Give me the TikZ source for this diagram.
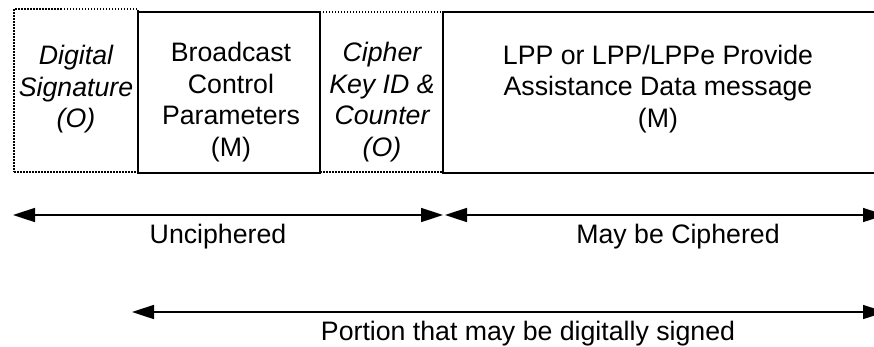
\documentclass[tikz,border=0pt]{standalone}
\usepackage{fontspec}
\setmainfont{Liberation Sans}
\usetikzlibrary{arrows.meta}
\tikzset{
  solidbox/.style={draw, line width=1.5pt, inner sep=0pt, fill=none},
  dotbox/.style={draw, line width=1.2pt, dash pattern=on 1.5pt off 1.5pt, inner sep=0pt},
  lbl/.style={align=center, inner sep=0pt, font=\fontsize{26.7}{31.5}\selectfont},
  ilbl/.style={lbl, font=\fontsize{26.7}{31.5}\selectfont\itshape},
  span/.style={line width=1.6pt, {Triangle[length=22pt,width=14pt]}-{Triangle[length=22pt,width=14pt]}}
}
\begin{document}
\begin{tikzpicture}[x=1pt,y=-1pt]
\useasboundingbox (0,0) rectangle (874,346);
\clip (0,0) rectangle (874,346);
% boxes
\node[dotbox, minimum width=124pt, minimum height=163pt] (ds) at (76,90.5) {};
\node[dotbox, minimum width=123pt, minimum height=160pt] (ck) at (381.5,92) {};
\node[solidbox, minimum width=182pt, minimum height=161pt] (bc) at (229,92.5) {};
\node[solidbox, minimum width=460pt, minimum height=161pt] (lpp) at (673,92.5) {};
% box texts
\node[ilbl] (dst) at (76,89.5) {Digital\\Signature\\(O)};
\node[lbl] (bct) at (231,102) {Broadcast\\Control\\Parameters\\(M)};
\node[ilbl] (ckt) at (382,102) {Cipher\\Key ID \&\\Counter\\(O)};
\node[lbl] (lppt) at (658,89) {LPP or LPP/LPPe Provide\\Assistance Data message\\(M)};
% arrows
\coordinate (u1) at (13,215);
\coordinate (u2) at (443,215);
\coordinate (c1) at (445,215);
\coordinate (c2) at (885,215);
\coordinate (p1) at (132,312);
\coordinate (p2) at (885,312);
\draw[span] (u1) -- (u2);
\draw[span] (c1) -- (c2);
\draw[span] (p1) -- (p2);
\node[lbl] (unc) at (218,237) {Unciphered};
\node[lbl] (mbc) at (678,237) {May be Ciphered};
\node[lbl] (pds) at (528,334) {Portion that may be digitally signed};
\end{tikzpicture}
\end{document}
